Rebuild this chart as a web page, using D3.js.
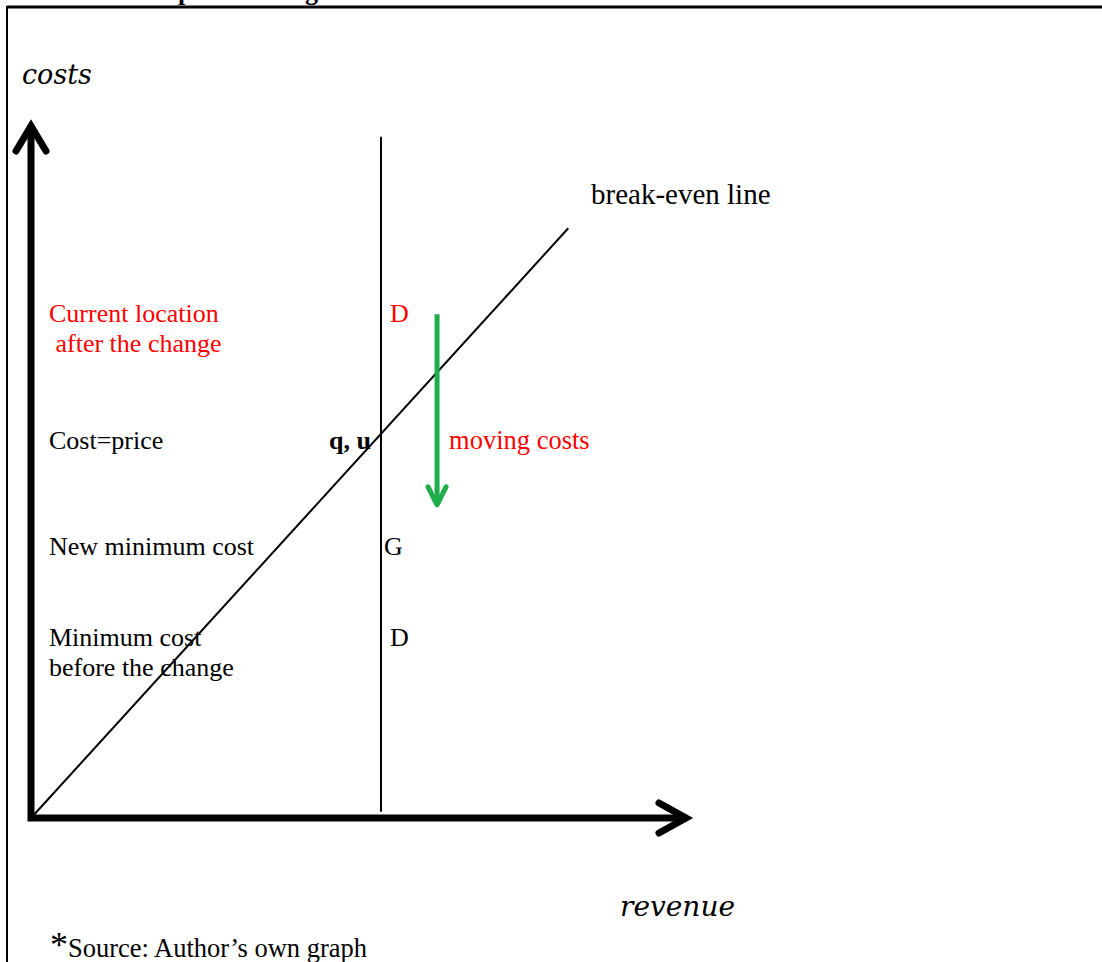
<!DOCTYPE html>
<html>
<head>
<meta charset="utf-8">
<script src="https://cdn.jsdelivr.net/npm/d3@7"></script>
<style>
  body { margin: 0; background: #fff; }
  svg { display: block; }
  .serif { font-family: "Liberation Serif", "Times New Roman", serif; }
  .math { font-family: "DejaVu Serif", serif; font-style: italic; }
</style>
</head>
<body>
<div id="chart"></div>
<script>
// domain of the sketch (arbitrary units)
var xDomain = [0, 10],
    yDomain = [0, 10];

// break-even line: from origin up to the right
var breakEven = [[0, 0], [8.19, 8.51]];

// vertical marker line (revenue level) and its extent
var markerX = 5.335;
var markerY = [0.09, 9.83];

// green "moving costs" arrow
var moveX = 6.19;
var moveY = [7.27, 4.52];

// cost levels
var levelNames = ["Current location|after the change", "Cost=price", "New minimum cost", "Minimum cost|before the change"];
var levelValues = [7.16, 5.32, 3.80, 2.48];
var levelMarks = ["D", "q, u", "G", "D"];
var levelColors = ["#ff0000", "#000", "#000", "#000"];

var width = 1102, height = 962;

var svg = d3.select("#chart")
  .append("svg")
    .attr("width", width)
    .attr("height", height);

var x = d3.scaleLinear().domain(xDomain).range([31, 687]);
var y = d3.scaleLinear().domain(yDomain).range([818, 125]);

// outer frame (page box)
svg.append("line")
  .attr("x1", 7).attr("x2", width).attr("y1", 7).attr("y2", 7)
  .attr("stroke", "#000").attr("stroke-width", 3);
svg.append("line")
  .attr("x1", 7).attr("x2", 7).attr("y1", 6).attr("y2", height)
  .attr("stroke", "#000").attr("stroke-width", 2);

// cut-off title glyphs at the top
svg.append("text").attr("class", "serif")
  .attr("x", 178).attr("y", 0)
  .style("font-weight", "bold").style("font-size", "26px")
  .text("p");
svg.append("text").attr("class", "serif")
  .attr("x", 305).attr("y", 0)
  .style("font-weight", "bold").style("font-size", "26px")
  .text("g");

var line = d3.line()
  .x(function(d) { return x(d[0]); })
  .y(function(d) { return y(d[1]); });

// vertical marker line
svg.append("line")
  .attr("x1", x(markerX)).attr("x2", x(markerX))
  .attr("y1", y(markerY[0])).attr("y2", y(markerY[1]))
  .attr("stroke", "#000").attr("stroke-width", 2);

// break-even line
svg.append("path")
  .datum(breakEven)
  .attr("d", line)
  .attr("fill", "none")
  .attr("stroke", "#000")
  .attr("stroke-width", 2);

// axes with arrow heads
var axisStroke = 7;
svg.append("path")
  .datum([[xDomain[0], yDomain[1]], [xDomain[0], yDomain[0]], [xDomain[1], yDomain[0]]])
  .attr("d", line)
  .attr("fill", "none")
  .attr("stroke", "#000")
  .attr("stroke-width", axisStroke)
  .attr("stroke-linejoin", "miter");

// y arrow head
var yt = [x(xDomain[0]), y(yDomain[1])];
svg.append("path")
  .attr("d", "M" + (yt[0] - 15) + "," + (yt[1] + 26) + "L" + yt[0] + "," + (yt[1] + 1) + "L" + (yt[0] + 15) + "," + (yt[1] + 26))
  .attr("fill", "none").attr("stroke", "#000")
  .attr("stroke-width", axisStroke).attr("stroke-linecap", "round");

// x arrow head
var xt = [x(xDomain[1]), y(yDomain[0])];
svg.append("path")
  .attr("d", "M" + (xt[0] - 28) + "," + (xt[1] - 15) + "L" + (xt[0] - 1) + "," + xt[1] + "L" + (xt[0] - 28) + "," + (xt[1] + 15))
  .attr("fill", "none").attr("stroke", "#000")
  .attr("stroke-width", axisStroke).attr("stroke-linecap", "round");

// green moving-costs arrow
var green = "#1fae4b";
svg.append("line")
  .attr("x1", x(moveX)).attr("x2", x(moveX))
  .attr("y1", y(moveY[0])).attr("y2", y(moveY[1]) - 3)
  .attr("stroke", green).attr("stroke-width", 5);
svg.append("path")
  .attr("d", "M" + (x(moveX) - 9) + "," + (y(moveY[1]) - 18) + "L" + x(moveX) + "," + y(moveY[1]) + "L" + (x(moveX) + 9) + "," + (y(moveY[1]) - 18))
  .attr("fill", "none").attr("stroke", green)
  .attr("stroke-width", 5).attr("stroke-linecap", "round").attr("stroke-linejoin", "round");

// axis titles
svg.append("text").attr("class", "math")
  .attr("x", 22).attr("y", 84)
  .style("font-size", "27px")
  .text("costs");
svg.append("text").attr("class", "math")
  .attr("x", 620).attr("y", 916)
  .style("font-size", "28px")
  .text("revenue");

// break-even label
svg.append("text").attr("class", "serif")
  .attr("x", 591).attr("y", 204)
  .style("font-size", "29px")
  .text("break-even line");

var labelSize = "26px";

// level labels on the left
levelNames.forEach(function(name, i) {
  var t = svg.append("text").attr("class", "serif")
    .attr("x", 49).attr("y", y(levelValues[i]))
    .attr("fill", levelColors[i])
    .style("font-size", labelSize);
  name.split("|").forEach(function(part, j) {
    t.append("tspan")
      .attr("x", 49).attr("dy", j === 0 ? 0 : 30)
      .text(j > 0 && i === 0 ? "\u00a0" + part : part);
  });
});

// marks next to the vertical line
levelMarks.forEach(function(m, i) {
  var isQ = m === "q, u";
  svg.append("text").attr("class", "serif")
    .attr("x", isQ ? x(markerX) - 10 : x(markerX) + (i === 2 ? 3 : 9))
    .attr("y", y(levelValues[i]))
    .attr("text-anchor", isQ ? "end" : "start")
    .attr("fill", levelColors[i])
    .style("font-size", labelSize)
    .style("font-weight", isQ ? "bold" : "normal")
    .text(m);
});

svg.append("text").attr("class", "serif")
  .attr("x", x(moveX) + 12).attr("y", y(levelValues[1]))
  .attr("fill", "#ff0000")
  .style("font-size", "26.5px")
  .text("moving costs");

// source note
var src = svg.append("text").attr("class", "serif")
  .attr("x", 50).attr("y", 957)
  .style("font-size", "26.5px");
src.append("tspan").style("font-size", "36px").text("*");
src.append("tspan").text("Source: Author\u2019s own graph");
</script>
</body>
</html>
